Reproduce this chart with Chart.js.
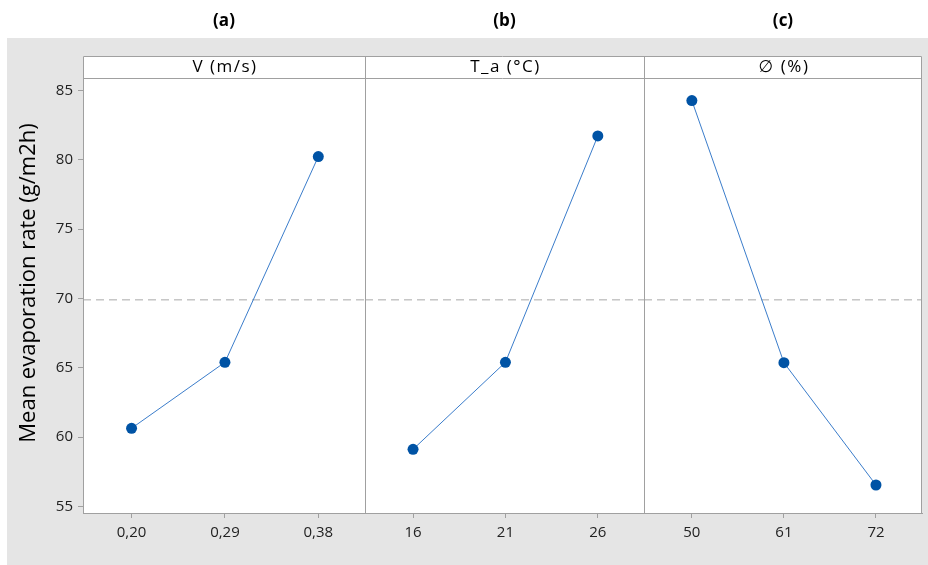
<!DOCTYPE html>
<html><head><meta charset="utf-8">
<script src="https://cdn.jsdelivr.net/npm/chart.js@4/dist/chart.umd.min.js"></script>
<style>html,body{margin:0;padding:0;background:#fff;} canvas{display:block}</style>
</head><body>
<canvas id="c" width="928" height="565"></canvas>
<script>
const panelTitles = ['(a)', '(b)', '(c)'];
const factorNames = ['V (m/s)', 'T_a (°C)', '\u2205 (%)'];
const levelsV = ['0,20', '0,29', '0,38'];
const levelsT = ['16', '21', '26'];
const levelsPhi = ['50', '61', '72'];
const meansV = [60.64, 65.40, 80.23];
const meansT = [59.12, 65.40, 81.72];
const meansPhi = [84.27, 65.37, 56.55];
const grandMean = 69.9;
const yTickValues = [55, 60, 65, 70, 75, 80, 85];
const yTitle = 'Mean evaporation rate (g/m2h)';

const FONT = "'Open Sans', 'DejaVu Sans', sans-serif";
const GRID = '#a0a0a0';
const X_MIN = -0.52, X_MAX = 2.5;

const panels = [
  {id: 'xa', levels: levelsV, means: meansV, weight: 282},
  {id: 'xb', levels: levelsT, means: meansT, weight: 279},
  {id: 'xc', levels: levelsPhi, means: meansPhi, weight: 278}
];

const datasets = [];
const scales = {
  y: {
    type: 'linear', position: 'left', min: 54.53, max: 85.9,
    afterBuildTicks: s => { s.ticks = yTickValues.map(v => ({value: v})); },
    afterFit: s => { s.width = 83; },
    grid: {drawOnChartArea: false, tickLength: 5, color: GRID},
    border: {color: GRID},
    ticks: {font: {family: FONT, size: 15}, color: '#222', padding: 5},
    title: {display: false, text: yTitle}
  }
};

panels.forEach(p => {
  datasets.push({
    xAxisID: p.id, yAxisID: 'y',
    data: p.means.map((v, i) => ({x: i, y: v})),
    borderColor: '#3b7dcb', borderWidth: 1, tension: 0,
    pointRadius: 5.5, pointHoverRadius: 5.5, pointStyle: 'circle',
    pointBackgroundColor: '#0053a5', pointBorderColor: '#0053a5', pointBorderWidth: 0
  });
  datasets.push({
    xAxisID: p.id, yAxisID: 'y',
    data: [{x: X_MIN, y: grandMean}, {x: X_MAX, y: grandMean}],
    borderColor: '#a8a8a8', borderWidth: 1, borderDash: [8, 5], pointRadius: 0
  });
  scales[p.id] = {
    type: 'linear', position: 'bottom', stack: 'panels', stackWeight: p.weight,
    min: X_MIN, max: X_MAX, offset: false,
    afterBuildTicks: s => { s.ticks = [0, 1, 2].map(v => ({value: v})); },
    afterFit: s => { s.height = 52; },
    grid: {drawOnChartArea: false, tickLength: 5, color: GRID},
    border: {color: GRID},
    ticks: {font: {family: FONT, size: 15}, color: '#222', padding: 6, maxRotation: 0,
            callback: v => p.levels[v]}
  };
});

const decor = {
  id: 'decor',
  beforeDraw(chart) {
    const ctx = chart.ctx, a = chart.chartArea;
    ctx.save();
    ctx.fillStyle = '#fff';
    ctx.fillRect(0, 0, chart.width, chart.height);
    ctx.fillStyle = '#e5e5e5';
    ctx.fillRect(7, 38, chart.width - 7, chart.height - 38);
    ctx.fillStyle = '#fff';
    ctx.fillRect(a.left, a.top - 22, a.right - a.left, a.bottom - a.top + 22);
    ctx.restore();
  },
  afterDraw(chart) {
    const ctx = chart.ctx, a = chart.chartArea;
    const top = a.top - 22;
    ctx.save();
    ctx.strokeStyle = GRID;
    ctx.lineWidth = 1;
    ctx.beginPath();
    ctx.rect(a.left + 0.5, top + 0.5, a.right - a.left - 1, a.bottom - top);
    ctx.moveTo(a.left, a.top + 0.5); ctx.lineTo(a.right, a.top + 0.5);
    ['xb', 'xc'].forEach(id => {
      const x = Math.round(chart.scales[id].left) + 0.5;
      ctx.moveTo(x, top); ctx.lineTo(x, a.bottom);
    });
    ctx.stroke();
    ctx.textAlign = 'center';
    ctx.textBaseline = 'middle';
    ctx.fillStyle = '#000';
    panels.forEach((p, i) => {
      const s = chart.scales[p.id];
      const cx = (s.left + s.right) / 2;
      ctx.font = 'bold 17px ' + FONT;
      ctx.letterSpacing = '0px';
      ctx.fillText(panelTitles[i], cx, 21);
      ctx.font = '17px ' + FONT;
      ctx.letterSpacing = '1.5px';
      ctx.fillText(factorNames[i], cx + 1, top + 11);
    });
    // y-axis title
    ctx.letterSpacing = '0px';
    ctx.font = '22px ' + FONT;
    ctx.translate(29, 283);
    ctx.rotate(-Math.PI / 2);
    ctx.fillText(yTitle, 0, 0);
    ctx.restore();
  }
};

new Chart(document.getElementById('c'), {
  type: 'line',
  data: {datasets},
  options: {
    responsive: false, animation: false, devicePixelRatio: 1,
    layout: {padding: {top: 78, right: 6, left: 0, bottom: 0}},
    plugins: {legend: {display: false}, tooltip: {enabled: false}},
    scales
  },
  plugins: [decor]
});
</script>
</body></html>
